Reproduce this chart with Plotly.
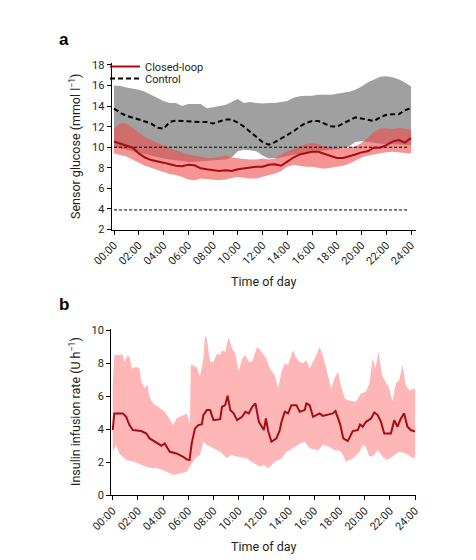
import plotly.graph_objects as go

# ---------------- Panel a: sensor glucose (half-hourly) ----------------
glucose_time = [i * 0.5 for i in range(49)]

closed_loop_mean = [10.55, 10.35, 10.2, 9.95, 9.4, 9.0, 8.75, 8.65, 8.5, 8.35,
                    8.2, 8.15, 8.3, 8.25, 7.95, 7.85, 7.8, 7.7, 7.75, 7.7,
                    7.85, 7.95, 8.05, 8.1, 8.1, 8.3, 8.35, 8.2, 8.6, 9.0,
                    9.3, 9.45, 9.55, 9.55, 9.35, 9.1, 8.95, 8.95, 9.1, 9.3,
                    9.5, 9.6, 9.95, 9.95, 10.2, 10.55, 10.7, 10.45, 10.9]
closed_loop_upper = [11.85, 12.3, 12.3, 11.9, 11.4, 11.0, 10.7, 10.4, 10.2, 9.9,
                     9.7, 9.5, 9.3, 9.2, 9.05, 8.95, 8.95, 9.1, 9.2, 9.0,
                     8.9, 8.85, 8.8, 8.8, 8.9, 8.8, 8.9, 9.3, 9.6, 9.8,
                     10.1, 10.3, 10.4, 10.3, 10.1, 10.0, 9.9, 9.9, 9.95, 10.1,
                     10.4, 10.9, 11.5, 11.8, 11.85, 11.75, 11.9, 11.8, 11.7]
closed_loop_lower = [9.4, 9.25, 9.1, 8.8, 8.5, 8.2, 8.0, 7.8, 7.6, 7.4,
                     7.3, 7.1, 6.85, 6.8, 6.95, 6.95, 6.85, 6.8, 6.85, 7.0,
                     7.1, 7.0, 6.95, 6.95, 7.1, 7.3, 7.45, 7.7, 8.1, 8.3,
                     8.2, 8.1, 8.1, 8.0, 7.9, 7.95, 8.1, 8.2, 8.4, 8.7,
                     9.0, 9.2, 9.35, 9.4, 9.5, 9.55, 9.5, 9.45, 9.4]
control_mean = [13.75, 13.35, 13.05, 12.9, 12.7, 12.5, 12.3, 11.9, 11.8, 12.45,
                12.6, 12.55, 12.5, 12.5, 12.45, 12.45, 12.3, 12.5, 12.7, 12.7,
                12.4, 12.0, 11.5, 11.0, 10.5, 10.25, 10.5, 10.85, 11.2, 11.55,
                12.0, 12.35, 12.55, 12.55, 12.3, 12.05, 12.0, 12.3, 12.6, 12.9,
                12.8, 12.7, 12.55, 12.9, 13.15, 13.2, 13.2, 13.6, 13.8]
control_upper = [16.0, 15.95, 15.8, 15.7, 15.6, 15.4, 15.1, 14.8, 14.5, 14.3,
                 14.3, 14.0, 14.2, 14.2, 14.2, 13.8, 13.9, 14.0, 14.1, 14.4,
                 14.7, 14.3, 14.4, 14.3, 14.25, 14.3, 14.3, 14.4, 14.5, 14.8,
                 14.95, 15.0, 15.0, 15.1, 15.1, 15.1, 15.2, 15.3, 15.4, 15.6,
                 15.9, 16.3, 16.6, 16.85, 16.9, 16.8, 16.6, 16.3, 15.9]
control_lower = [10.0, 9.9, 9.8, 9.65, 9.5, 9.35, 9.2, 9.05, 8.9, 8.8,
                 8.7, 8.65, 8.6, 8.6, 8.6, 8.65, 8.7, 8.75, 8.8, 9.0,
                 9.6, 9.75, 9.7, 9.6, 9.2, 8.9, 8.95, 9.0, 9.1, 9.25,
                 9.4, 9.5, 9.6, 9.65, 9.7, 9.75, 9.8, 9.9, 10.1, 10.5,
                 10.6, 10.5, 10.4, 10.35, 10.3, 10.3, 10.3, 10.25, 10.2]
glucose_thresholds = [10.0, 3.9]
threshold_span = [0.0, 23.7]

# ---------------- Panel b: insulin infusion rate ----------------
insulin_median_time = [0, 0.13, 0.8, 1.07, 1.33, 1.6, 2.27, 2.67, 2.93, 3.47,
                       3.87, 4.13, 4.53, 5.07, 5.6, 5.87, 6.1, 6.27, 6.4, 6.53,
                       6.8, 7.07, 7.2, 7.47, 7.73, 8.0, 8.53, 8.67, 8.93, 9.12,
                       9.33, 9.6, 9.87, 10.27, 10.53, 10.8, 11.07, 11.33, 11.6, 11.87,
                       12.0, 12.16, 12.34, 12.6, 13.0, 13.26, 13.4, 13.66, 13.92, 14.18,
                       14.58, 14.84, 15.24, 15.37, 15.63, 15.9, 16.42, 16.68, 17.2, 17.47,
                       17.68, 17.95, 18.05, 18.3, 18.66, 19.05, 19.45, 19.63, 19.84, 20.1,
                       20.5, 20.76, 21.03, 21.29, 21.55, 22.08, 22.34, 22.6, 22.87, 23.13,
                       23.39, 23.66, 24.0]
insulin_median = [3.94, 4.95, 4.95, 4.74, 4.24, 3.94, 3.88, 3.73, 3.43, 3.19,
                  2.99, 3.13, 2.62, 2.52, 2.32, 2.16, 2.12, 3.13, 3.63, 4.04,
                  4.24, 4.28, 4.85, 5.15, 5.15, 4.54, 4.6, 5.35, 5.45, 6.02,
                  5.15, 4.95, 4.54, 4.74, 5.05, 4.95, 5.35, 5.55, 4.44, 4.04,
                  3.94, 4.64, 3.88, 3.23, 3.43, 3.94, 4.44, 5.05, 4.95, 5.45,
                  5.45, 5.05, 5.15, 5.55, 5.45, 4.74, 4.95, 4.8, 4.88, 4.95,
                  5.09, 4.44, 4.3, 3.43, 3.27, 3.88, 3.94, 4.28, 4.14, 4.44,
                  4.64, 5.01, 4.85, 4.44, 3.73, 3.73, 4.54, 4.14, 4.64, 4.95,
                  4.14, 3.94, 3.84]

insulin_upper_time = [0, 0.13, 0.8, 0.93, 1.2, 1.33, 1.52, 1.87, 2.13, 2.27,
                      2.53, 2.75, 2.93, 3.2, 3.6, 4.13, 4.4, 4.8, 5.07, 5.33,
                      5.87, 6.13, 6.2, 6.67, 6.93, 7.2, 7.33, 7.47, 7.73, 8.0,
                      8.27, 8.53, 8.67, 8.93, 9.2, 9.47, 9.73, 10.0, 10.27, 10.53,
                      10.8, 11.07, 11.47, 11.73, 12.0, 12.2, 12.47, 12.87, 13.13, 13.4,
                      13.66, 13.92, 14.3, 14.58, 14.84, 15.1, 15.37, 15.63, 15.9, 16.16,
                      16.42, 16.68, 16.95, 17.34, 17.6, 17.87, 18.13, 18.42, 18.66, 19.3,
                      19.7, 20.1, 20.37, 20.63, 20.84, 21.1, 21.37, 21.68, 21.95, 22.2,
                      22.47, 22.74, 23.0, 23.26, 23.53, 24.0]
insulin_upper = [6.6, 8.48, 8.52, 8.08, 8.48, 8.38, 7.67, 7.77, 7.67, 6.87,
                 6.46, 6.7, 5.96, 5.55, 5.35, 5.05, 4.74, 4.24, 4.64, 4.74,
                 4.95, 4.3, 7.9, 7.77, 7.17, 8.28, 9.7, 9.49, 8.08, 8.08,
                 8.58, 8.48, 8.78, 8.68, 9.59, 8.89, 8.58, 7.47, 8.28, 8.48,
                 8.08, 8.08, 8.99, 8.78, 8.5, 8.28, 7.67, 7.27, 6.46, 7.47,
                 7.98, 7.88, 8.78, 8.28, 8.08, 7.98, 8.18, 7.67, 8.08, 8.48,
                 8.99, 8.48, 7.67, 6.46, 7.07, 7.47, 6.56, 5.85, 5.75, 5.65,
                 6.16, 6.26, 6.76, 8.28, 7.67, 8.68, 7.27, 6.87, 6.46, 5.65,
                 6.76, 6.97, 7.88, 6.66, 6.36, 6.46]

insulin_lower_time = [0, 0.27, 0.53, 1.07, 1.73, 2.27, 2.93, 3.6, 4.27, 4.8,
                      5.33, 5.87, 6.13, 6.53, 6.93, 7.2, 7.47, 8.0, 8.53, 9.07,
                      9.33, 10.0, 10.67, 11.2, 11.73, 12.0, 12.34, 12.87, 13.4, 13.8,
                      14.3, 14.84, 15.24, 15.63, 16.3, 16.68, 17.2, 17.6, 18.0, 18.3,
                      18.5, 19.05, 19.6, 19.84, 20.1, 20.37, 20.76, 21.03, 21.42, 21.8,
                      22.34, 22.74, 23.26, 23.66, 24.0]
insulin_lower = [2.62, 3.03, 2.52, 2.12, 2.02, 1.82, 1.65, 1.61, 1.41, 1.21,
                 1.31, 1.41, 1.71, 2.22, 2.42, 3.23, 3.03, 2.83, 2.62, 2.22,
                 2.42, 2.32, 2.22, 1.92, 1.71, 1.82, 1.61, 2.02, 2.22, 2.62,
                 2.83, 3.13, 3.23, 2.83, 2.72, 3.03, 2.93, 2.72, 2.7, 2.4,
                 2.02, 2.22, 2.62, 3.03, 2.93, 2.32, 2.42, 2.72, 2.32, 2.12,
                 2.42, 2.62, 2.52, 2.32, 2.22]

tick_hours = list(range(0, 25, 2))
tick_labels = ["00:00", "02:00", "04:00", "06:00", "08:00", "10:00", "12:00",
               "14:00", "16:00", "18:00", "20:00", "22:00", "24:00"]

# ---------------- Figure ----------------
# The page body has an 8 px default margin; the figure is sized to fit the window.
OFF = 8
W, H = 476 - OFF, 560 - OFF
FONT = "Roboto"
TXT = "#231f20"
RED = "#a50d12"


def px_x(p):
    return (p - OFF) / W


def px_y(p):
    return 1 - (p - OFF) / H


fig = go.Figure()


def band(xs_up, ys_up, xs_lo, ys_lo, color, xa, ya):
    return go.Scatter(x=list(xs_up) + list(xs_lo)[::-1],
                      y=list(ys_up) + list(ys_lo)[::-1],
                      fill="toself", fillcolor=color, mode="lines",
                      line=dict(width=0), hoverinfo="skip", showlegend=False,
                      xaxis=xa, yaxis=ya)


# panel a
fig.add_trace(band(glucose_time, control_upper, glucose_time, control_lower,
                   "rgb(160,160,160)", "x", "y"))
fig.add_trace(band(glucose_time, closed_loop_upper, glucose_time, closed_loop_lower,
                   "rgba(240,75,75,0.6)", "x", "y"))
for thr in glucose_thresholds:
    fig.add_trace(go.Scatter(x=threshold_span, y=[thr, thr], mode="lines",
                             line=dict(color="black", width=1, dash="3px,2px"),
                             showlegend=False, hoverinfo="skip",
                             xaxis="x", yaxis="y"))
fig.add_trace(go.Scatter(x=glucose_time, y=closed_loop_mean, mode="lines",
                         name="Closed-loop", line=dict(color=RED, width=2),
                         legend="legend", xaxis="x", yaxis="y"))
fig.add_trace(go.Scatter(x=glucose_time, y=control_mean, mode="lines",
                         name="Control",
                         line=dict(color="black", width=2, dash="5px,3px"),
                         legend="legend2", xaxis="x", yaxis="y"))

# panel b
fig.add_trace(band(insulin_upper_time, insulin_upper, insulin_lower_time, insulin_lower,
                   "rgba(255,110,110,0.5)", "x2", "y2"))
fig.add_trace(go.Scatter(x=insulin_median_time, y=insulin_median, mode="lines",
                         line=dict(color=RED, width=2), showlegend=False,
                         xaxis="x2", yaxis="y2"))

axis_common = dict(showline=True, linecolor="black", linewidth=1.3,
                   ticks="outside", ticklen=4, tickwidth=1.2, tickcolor="black",
                   showgrid=False, zeroline=False, automargin=False,
                   tickfont=dict(family=FONT, size=11, color=TXT))

legend_common = dict(xanchor="left", yanchor="middle", bgcolor="rgba(0,0,0,0)",
                     font=dict(family=FONT, size=11, color=TXT), itemwidth=30,
                     borderwidth=0)

fig.update_layout(
    width=W, height=H, autosize=False,
    margin=dict(l=0, r=0, t=0, b=0, autoexpand=False),
    paper_bgcolor="white", plot_bgcolor="white",
    font=dict(family=FONT, color=TXT),
    xaxis=dict(domain=[px_x(111.7), px_x(416)], range=[-0.19, 24.4],
               tickvals=tick_hours, ticktext=tick_labels, tickangle=-45,
               anchor="y", **axis_common),
    yaxis=dict(domain=[px_y(229.5), px_y(62.9)], range=[2, 18.2],
               tickvals=list(range(2, 19, 2)), anchor="x", **axis_common),
    xaxis2=dict(domain=[px_x(111.3), px_x(416)], range=[-0.11, 24.07],
                tickvals=tick_hours, ticktext=tick_labels, tickangle=-45,
                anchor="y2", **axis_common),
    yaxis2=dict(domain=[px_y(495), px_y(329.3)], range=[0, 10.05],
                tickvals=list(range(0, 11, 2)), anchor="x2", **axis_common),
    legend=dict(x=px_x(105), y=px_y(66.5), **legend_common),
    legend2=dict(x=px_x(105), y=px_y(78.5), **legend_common),
    showlegend=True,
)

annos = [
    dict(text="<b>a</b>", x=px_x(57), y=px_y(39), xanchor="left", yanchor="middle",
         font=dict(size=17, family="Liberation Sans", color="black")),
    dict(text="<b>b</b>", x=px_x(57), y=px_y(305), xanchor="left", yanchor="middle",
         font=dict(size=17, family="Liberation Sans", color="black")),
    dict(text="Time of day", x=px_x(264), y=px_y(281.5), xanchor="center", yanchor="middle",
         font=dict(size=12.5, family=FONT, color=TXT)),
    dict(text="Time of day", x=px_x(264), y=px_y(546.5), xanchor="center", yanchor="middle",
         font=dict(size=12.5, family=FONT, color=TXT)),
    dict(text="Sensor glucose (mmol l<sup>−1</sup>)", x=px_x(75), y=px_y(147),
         xanchor="center", yanchor="middle", textangle=-90,
         font=dict(size=12.5, family=FONT, color=TXT)),
    dict(text="Insulin infusion rate (U h<sup>−1</sup>)", x=px_x(75), y=px_y(412),
         xanchor="center", yanchor="middle", textangle=-90,
         font=dict(size=12.5, family=FONT, color=TXT)),
]
for a in annos:
    a.update(xref="paper", yref="paper", showarrow=False)
fig.update_layout(annotations=annos)

fig.write_html("out.html")
